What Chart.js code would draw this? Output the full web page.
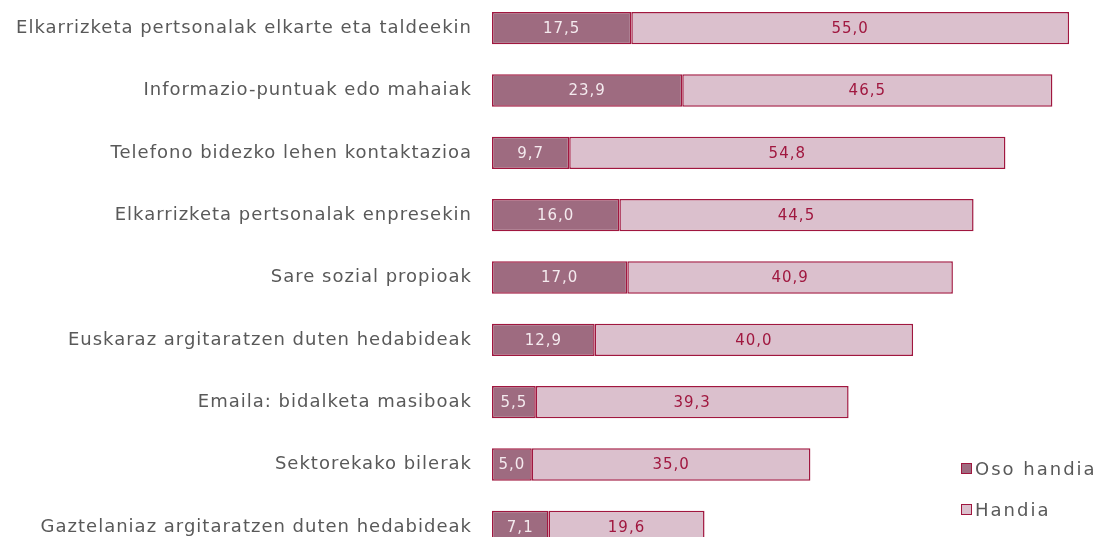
<!DOCTYPE html>
<html>
<head>
<meta charset="utf-8">
<script src="https://cdn.jsdelivr.net/npm/chart.js@4"></script>
<style>
    body { margin: 0; background: #fff; overflow: hidden; width: 1101px; height: 537px; }
    #wrap { position: absolute; left: 0; top: -3px; width: 1101px; height: 561px; }
    #legend { position: absolute; left: 961px; top: 456px; font-family: 'DejaVu Sans', sans-serif; font-size: 18px; letter-spacing: 2px; color: #595959; }
    #legend div { height: 41px; line-height: 26px; }
    #legend span.box { display: inline-block; width: 9px; height: 9px; border: 1px solid #A0173F; margin-right: 3px; vertical-align: 1px; }
</style>
</head>
<body>
<div id="wrap"><canvas id="bar_chart"></canvas></div>
<div id="legend">
    <div><span class="box" style="background:#9E6B80"></span>Oso handia</div>
    <div><span class="box" style="background:#DBC0CD"></span>Handia</div>
</div>
<script>

let categories = [
    'Elkarrizketa pertsonalak elkarte eta taldeekin',
    'Informazio-puntuak edo mahaiak',
    'Telefono bidezko lehen kontaktazioa',
    'Elkarrizketa pertsonalak enpresekin',
    'Sare sozial propioak',
    'Euskaraz argitaratzen duten hedabideak',
    'Emaila: bidalketa masiboak',
    'Sektorekako bilerak',
    'Gaztelaniaz argitaratzen duten hedabideak'
];
let oso_handia = [17.5, 23.9, 9.7, 16.0, 17.0, 12.9, 5.5, 5.0, 7.1];
let handia = [55.0, 46.5, 54.8, 44.5, 40.9, 40.0, 39.3, 35.0, 19.6];

const LABEL_FONT = 'DejaVu Sans';

// wider text, closer to the original font
let spacing = {
    id: 'spacing',
    beforeDraw(chart) { chart.ctx.letterSpacing = '1px'; },
    afterDraw(chart) { chart.ctx.letterSpacing = '0px'; }
};

// draws the value inside every segment (no datalabels plugin available)
let value_labels = {
    id: 'value_labels',
    afterDatasetsDraw(chart) {
        let ctx = chart.ctx;
        ctx.save();
        ctx.font = '15px ' + LABEL_FONT;
        ctx.textAlign = 'center';
        ctx.textBaseline = 'middle';
        chart.data.datasets.forEach((ds, i) => {
            chart.getDatasetMeta(i).data.forEach((bar, j) => {
                ctx.fillStyle = ds.labelColor;
                let txt = ds.data[j].toFixed(1).replace('.', ',');
                ctx.fillText(txt, (bar.x + bar.base) / 2, bar.y + 1);
            });
        });
        ctx.restore();
    }
};

var bar_chart_context = document.getElementById('bar_chart').getContext('2d');
var bar_chart = new Chart(bar_chart_context, {
    type: 'bar',
    data: {
        labels: categories,
        datasets: [{
            label: 'Oso handia',
            data: oso_handia,
            backgroundColor: '#9E6B80',
            borderColor: '#A0173F',
            borderWidth: 1.5,
            borderSkipped: false,
            labelColor: '#F4EAEE'
        }, {
            label: 'Handia',
            data: handia,
            backgroundColor: '#DBC0CD',
            borderColor: '#A0173F',
            borderWidth: 1.5,
            borderSkipped: false,
            labelColor: '#A0173F'
        }]
    },
    options: {
        indexAxis: 'y',
        responsive: true,
        maintainAspectRatio: false,
        animation: false,
        categoryPercentage: 0.52,
        barPercentage: 1.0,
        layout: { padding: { left: 0, right: 12, top: 0, bottom: 0 } },
        scales: {
            x: {
                stacked: true,
                display: false,
                min: 0,
                max: 75
            },
            y: {
                stacked: true,
                grid: { display: false, drawTicks: false },
                border: { display: false },
                ticks: {
                    color: '#595959',
                    padding: 20,
                    font: { family: LABEL_FONT, size: 18 }
                },
                afterFit: function (scale) {
                    scale.width = 492;
                    scale.paddingTop = 0;
                    scale.paddingBottom = 0;
                }
            }
        },
        plugins: {
            legend: { display: false },
            tooltip: { enabled: false }
        }
    },
    plugins: [spacing, value_labels]
});
</script>
</body>
</html>
